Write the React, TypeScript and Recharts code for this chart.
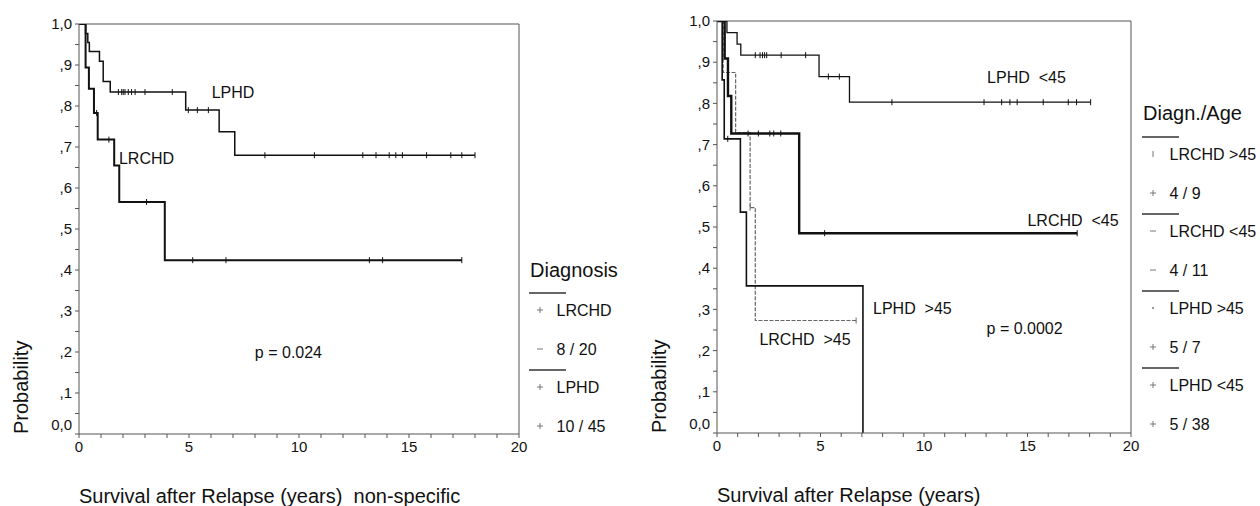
import React from 'react';
import { ComposedChart, Line, Scatter, XAxis, YAxis, ReferenceLine, ReferenceDot, Label } from 'recharts';

const FONT = '"Liberation Sans", Arial, Helvetica, sans-serif';
const INK = '#111';
const AXIS = '#555';

const X_TICKS = [0, 1, 2, 3, 4, 5, 6, 7, 8, 9, 10, 11, 12, 13, 14, 15, 16, 17, 18, 19, 20];
const Y_TICKS = [0, 0.05, 0.1, 0.15, 0.2, 0.25, 0.3, 0.35, 0.4, 0.45, 0.5, 0.55, 0.6, 0.65, 0.7, 0.75, 0.8, 0.85, 0.9, 0.95, 1];

// ---------- Left panel: Diagnosis ----------
const L_LRCHD = [
  { t: 0, p: 1 }, { t: 0.3, p: 0.894 }, { t: 0.45, p: 0.842 }, { t: 0.68, p: 0.783 },
  { t: 0.85, p: 0.718 }, { t: 1.6, p: 0.655 }, { t: 1.83, p: 0.566 }, { t: 3.9, p: 0.424 }, { t: 17.4, p: 0.424 },
];
const L_LRCHD_CENS = [
  { t: 0.8, p: 0.783 }, { t: 1.36, p: 0.718 }, { t: 3.07, p: 0.566 }, { t: 5.17, p: 0.424 },
  { t: 6.68, p: 0.424 }, { t: 13.2, p: 0.424 }, { t: 13.8, p: 0.424 }, { t: 17.4, p: 0.424 },
];
const L_LPHD = [
  { t: 0, p: 1 }, { t: 0.3, p: 0.977 }, { t: 0.4, p: 0.955 }, { t: 0.47, p: 0.933 }, { t: 0.93, p: 0.909 },
  { t: 1.1, p: 0.86 }, { t: 1.42, p: 0.834 }, { t: 4.85, p: 0.79 }, { t: 6.37, p: 0.737 },
  { t: 7.08, p: 0.68 }, { t: 18.0, p: 0.68 },
];
const L_LPHD_CENS = [
  { t: 1.79, p: 0.834 }, { t: 1.94, p: 0.834 }, { t: 2.01, p: 0.834 }, { t: 2.09, p: 0.834 },
  { t: 2.24, p: 0.834 }, { t: 2.39, p: 0.834 }, { t: 2.55, p: 0.834 }, { t: 3.0, p: 0.834 },
  { t: 4.24, p: 0.834 }, { t: 4.97, p: 0.79 }, { t: 5.38, p: 0.79 }, { t: 5.88, p: 0.79 },
  { t: 8.45, p: 0.68 }, { t: 10.7, p: 0.68 }, { t: 12.9, p: 0.68 }, { t: 13.5, p: 0.68 },
  { t: 14.1, p: 0.68 }, { t: 14.4, p: 0.68 }, { t: 14.7, p: 0.68 }, { t: 15.8, p: 0.68 },
  { t: 16.9, p: 0.68 }, { t: 17.4, p: 0.68 }, { t: 18.0, p: 0.68 },
];
const L_LABELS = [
  { text: 'LPHD', t: 7.0, p: 0.834 },
  { text: 'LRCHD', t: 3.07, p: 0.673 },
  { text: 'p = 0.024', t: 9.52, p: 0.2 },
];
const L_LEGEND_TITLE = 'Diagnosis';
const L_LEGEND = [
  { name: 'LRCHD', count: '8 / 20', m1: '+', m2: '-' },
  { name: 'LPHD', count: '10 / 45', m1: '+', m2: '+' },
];

// ---------- Right panel: Diagnosis / Age ----------
const R_LPHD_Y = [
  { t: 0, p: 1 }, { t: 0.48, p: 0.972 }, { t: 0.97, p: 0.944 }, { t: 1.15, p: 0.917 },
  { t: 4.93, p: 0.865 }, { t: 6.4, p: 0.803 }, { t: 18.05, p: 0.803 },
];
const R_LPHD_Y_CENS = [
  { t: 1.85, p: 0.917 }, { t: 2.08, p: 0.917 }, { t: 2.2, p: 0.917 }, { t: 2.3, p: 0.917 },
  { t: 2.4, p: 0.917 }, { t: 3.1, p: 0.917 }, { t: 4.28, p: 0.917 }, { t: 5.38, p: 0.865 },
  { t: 5.91, p: 0.865 }, { t: 8.45, p: 0.803 }, { t: 12.9, p: 0.803 }, { t: 13.75, p: 0.803 },
  { t: 14.15, p: 0.803 }, { t: 14.5, p: 0.803 }, { t: 15.76, p: 0.803 }, { t: 16.97, p: 0.803 },
  { t: 17.37, p: 0.803 }, { t: 18.05, p: 0.803 },
];
const R_LRCHD_Y = [
  { t: 0, p: 1 }, { t: 0.37, p: 0.909 }, { t: 0.53, p: 0.818 }, { t: 0.69, p: 0.727 },
  { t: 3.97, p: 0.485 }, { t: 17.4, p: 0.485 },
];
const R_LRCHD_Y_CENS = [
  { t: 1.5, p: 0.727 }, { t: 2.0, p: 0.727 }, { t: 2.55, p: 0.727 }, { t: 2.74, p: 0.727 },
  { t: 3.08, p: 0.727 }, { t: 5.2, p: 0.485 }, { t: 17.4, p: 0.485 },
];
const R_LPHD_O = [
  { t: 0, p: 1 }, { t: 0.25, p: 0.857 }, { t: 0.35, p: 0.714 }, { t: 1.13, p: 0.536 },
  { t: 1.42, p: 0.357 }, { t: 7.05, p: 0 },
];
const R_LPHD_O_CENS = [{ t: 0.52, p: 0.714 }];
const R_LRCHD_O = [
  { t: 0, p: 1 }, { t: 0.3, p: 0.875 }, { t: 0.9, p: 0.729 }, { t: 1.6, p: 0.547 },
  { t: 1.85, p: 0.273 }, { t: 6.72, p: 0.273 },
];
const R_LRCHD_O_CENS = [{ t: 1.6, p: 0.547 }, { t: 6.72, p: 0.273 }];
const R_LABELS = [
  { text: 'LPHD  <45', t: 14.95, p: 0.862 },
  { text: 'LRCHD  <45', t: 17.2, p: 0.515 },
  { text: 'LPHD  >45', t: 9.44, p: 0.303 },
  { text: 'LRCHD  >45', t: 4.25, p: 0.226 },
  { text: 'p = 0.0002', t: 14.86, p: 0.255 },
];
const R_LEGEND_TITLE = 'Diagn./Age';
const R_LEGEND = [
  { name: 'LRCHD >45', count: '4 / 9', m1: '|', m2: '+' },
  { name: 'LRCHD <45', count: '4 / 11', m1: '-', m2: '-' },
  { name: 'LPHD >45', count: '5 / 7', m1: '.', m2: '+' },
  { name: 'LPHD <45', count: '5 / 38', m1: '+', m2: '+' },
];

const fmtY = (v: number) => {
  if (Math.abs(v - 1) < 1e-9) return '1,0';
  if (Math.abs(v) < 1e-9) return '0,0';
  const d = Math.round(v * 10);
  if (Math.abs(d - v * 10) < 1e-6) return ',' + d;
  return '';
};

const YTick = (props: any) => {
  const { x, y, payload } = props;
  const label = fmtY(payload.value);
  if (!label) return null;
  const dy = Math.abs(payload.value) < 1e-9 ? -9 : 0;
  return (
    <text x={x} y={y + dy} dy="0.35em" textAnchor="end" fontSize={15} fontFamily={FONT} fill={INK}>
      {label}
    </text>
  );
};

const censorShape = (color: string) => (props: any) => {
  const { cx, cy } = props;
  if (cx == null || cy == null) return <g />;
  return <line x1={cx} y1={cy - 3} x2={cx} y2={cy + 3} stroke={color} strokeWidth={1} />;
};

const labelContent = (text: string) => (props: any) => {
  const vb = props.viewBox || {};
  const cx = (vb.x || 0) + (vb.width || 0) / 2;
  const cy = (vb.y || 0) + (vb.height || 0) / 2;
  return (
    <text x={cx} y={cy} dy="0.35em" textAnchor="middle" fontSize={16} fontFamily={FONT} fill={INK}
      xmlSpace="preserve" style={{ whiteSpace: 'pre' }}>
      {text}
    </text>
  );
};

const xTitleContent = (title: string) => (props: any) => {
  const vb = props.viewBox || {};
  return (
    <text x={vb.x} y={(vb.y || 0) + 69} fontSize={20} fontFamily={FONT} fill={INK}
      xmlSpace="preserve" style={{ whiteSpace: 'pre' }}>
      {title}
    </text>
  );
};

const yTitleContent = (props: any) => {
  const vb = props.viewBox || {};
  const x = (vb.x || 0) + (vb.width || 0) - 51;
  const y = (vb.y || 0) + (vb.height || 0);
  return (
    <text x={x} y={y} transform={`rotate(-90 ${x} ${y})`} textAnchor="start" fontSize={20} fontFamily={FONT} fill={INK}>
      Probability
    </text>
  );
};

type Series = { data: any[]; cens: any[]; color: string; width: number; dash?: string };

function Panel({ w, h, margin, series, labels, xTitle }: {
  w: number; h: number; margin: any; series: Series[]; labels: any[]; xTitle: string;
}) {
  return (
    <ComposedChart width={w} height={h} margin={margin}>
      <XAxis type="number" dataKey="t" domain={[0, 20]} ticks={X_TICKS} interval={0} allowDataOverflow
        tickFormatter={(v: number) => (v % 5 === 0 ? String(v) : '')}
        tick={{ fontSize: 15, fill: INK, fontFamily: FONT }} tickSize={4} tickMargin={3} height={30}
        axisLine={{ stroke: AXIS }} tickLine={{ stroke: AXIS }}>
        <Label content={xTitleContent(xTitle)} />
      </XAxis>
      <YAxis type="number" domain={[0, 1]} ticks={Y_TICKS} interval={0} width={60} tickSize={4} tickMargin={3}
        tick={(p: any) => <YTick {...p} />} axisLine={{ stroke: AXIS }} tickLine={{ stroke: AXIS }} allowDataOverflow>
        <Label content={yTitleContent} />
      </YAxis>
      <ReferenceLine y={1} stroke={AXIS} strokeWidth={1} />
      <ReferenceLine x={20} stroke={AXIS} strokeWidth={1} />
      {series.map((s, i) => (
        <Line key={'l' + i} data={s.data} dataKey="p" type="stepAfter" stroke={s.color} strokeWidth={s.width}
          strokeDasharray={s.dash} dot={false} activeDot={false} isAnimationActive={false} />
      ))}
      {series.map((s, i) => (
        <Scatter key={'c' + i} data={s.cens} dataKey="p" shape={censorShape(s.color)} isAnimationActive={false} />
      ))}
      {labels.map((l, i) => (
        <ReferenceDot key={'t' + i} x={l.t} y={l.p} r={0} fill="none" stroke="none" label={{ content: labelContent(l.text) }} />
      ))}
    </ComposedChart>
  );
}

const Marker = ({ kind, x, y }: { kind: string; x: number; y: number }) => {
  const c = '#777';
  if (kind === '+') return (
    <g stroke={c} strokeWidth={1}>
      <line x1={x - 3} y1={y} x2={x + 3} y2={y} />
      <line x1={x} y1={y - 3} x2={x} y2={y + 3} />
    </g>
  );
  if (kind === '-') return <line x1={x - 3} y1={y} x2={x + 3} y2={y} stroke={c} strokeWidth={1} />;
  if (kind === '|') return <line x1={x} y1={y - 3} x2={x} y2={y + 3} stroke={c} strokeWidth={1} />;
  return <circle cx={x} cy={y} r={1} fill={c} />;
};

function LegendBlock({ x0, titleY, lineY, title, items }: { x0: number; titleY: number; lineY: number; title: string; items: any[] }) {
  return (
    <g fontFamily={FONT} fill={INK}>
      <text x={x0 + 1} y={titleY} dy="0.35em" fontSize={20}>{title}</text>
      {items.map((it, i) => {
        const ly = lineY + i * 77;
        return (
          <g key={i}>
            <line x1={x0} y1={ly} x2={x0 + 37} y2={ly} stroke="#333" strokeWidth={1.3} />
            <Marker kind={it.m1} x={x0 + 11} y={ly + 17} />
            <text x={x0 + 27.5} y={ly + 17} dy="0.35em" fontSize={16}>{it.name}</text>
            <Marker kind={it.m2} x={x0 + 11} y={ly + 56} />
            <text x={x0 + 27.5} y={ly + 56} dy="0.35em" fontSize={16} xmlSpace="preserve" style={{ whiteSpace: 'pre' }}>{it.count}</text>
          </g>
        );
      })}
    </g>
  );
}

const LEFT_SERIES: Series[] = [
  { data: L_LPHD, cens: L_LPHD_CENS, color: INK, width: 1.5 },
  { data: L_LRCHD, cens: L_LRCHD_CENS, color: INK, width: 2 },
];
const RIGHT_SERIES: Series[] = [
  { data: R_LRCHD_O, cens: R_LRCHD_O_CENS, color: '#666', width: 1.2, dash: '4 1.5' },
  { data: R_LPHD_O, cens: R_LPHD_O_CENS, color: INK, width: 1.6 },
  { data: R_LPHD_Y, cens: R_LPHD_Y_CENS, color: INK, width: 1.3 },
  { data: R_LRCHD_Y, cens: R_LRCHD_Y_CENS, color: INK, width: 2.4 },
];

export default function App() {
  return (
    <div style={{ position: 'absolute', left: 0, top: 0, width: 1260, height: 506, background: '#fff', overflow: 'hidden' }}>
      <div style={{ position: 'absolute', left: 0, top: 0 }}>
        <Panel w={640} h={506} margin={{ top: 24, right: 121, bottom: 42, left: 19 }} series={LEFT_SERIES}
          labels={L_LABELS} xTitle="Survival after Relapse (years)  non-specific" />
      </div>
      <div style={{ position: 'absolute', left: 640, top: 0 }}>
        <Panel w={620} h={506} margin={{ top: 21, right: 129, bottom: 43, left: 17 }} series={RIGHT_SERIES}
          labels={R_LABELS} xTitle="Survival after Relapse (years)" />
      </div>
      <svg width={1260} height={506} style={{ position: 'absolute', left: 0, top: 0, pointerEvents: 'none' }}>
        <LegendBlock x0={529} titleY={270} lineY={293} title={L_LEGEND_TITLE} items={L_LEGEND} />
        <LegendBlock x0={1142} titleY={113} lineY={137} title={R_LEGEND_TITLE} items={R_LEGEND} />
      </svg>
    </div>
  );
}
